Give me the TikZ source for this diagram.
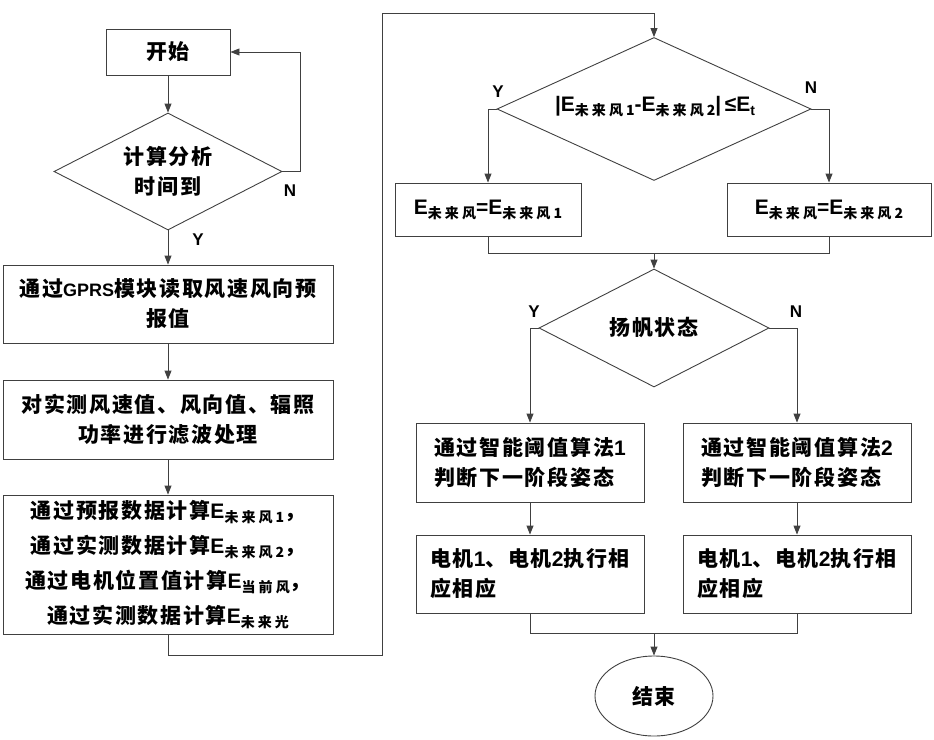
\documentclass[tikz,border=0pt]{standalone}
\usepackage{fontspec}
\newfontfamily\cjk{Noto Sans CJK SC}[LetterSpace=8]
\newfontfamily\cjks{Noto Sans CJK SC}[LetterSpace=22]
\newfontfamily\lat{Liberation Sans}
\usetikzlibrary{shapes.geometric,arrows.meta}
\newcommand\lt[1]{{\lat\bfseries #1}}
\newcommand\sbx[1]{\raisebox{-4pt}{\cjks\bfseries\fontsize{14pt}{14pt}\selectfont #1}}
\newcommand\EE[1]{\lt{E}\sbx{#1}}
\tikzset{
  base/.style={font=\cjk\bfseries\fontsize{21pt}{30pt}\selectfont, draw=black!75, line width=0.9pt},
  proc/.style={base, rectangle, align=center, inner sep=0pt},
  procl/.style={base, rectangle, align=left, inner sep=0pt},
  dec/.style={base, diamond, inner sep=0pt},
  dtext/.style={font=\cjk\bfseries\fontsize{21pt}{30pt}\selectfont, align=center, inner sep=0pt},
  term/.style={base, ellipse, inner sep=0pt},
  yn/.style={font=\lat\bfseries\fontsize{17pt}{17pt}\selectfont, inner sep=0pt},
  line/.style={draw=black!75, line width=0.9pt},
  arr/.style={line, -{Triangle[length=9pt,width=7pt]}},
}
\begin{document}
\begin{tikzpicture}[x=1pt,y=-1pt]
\useasboundingbox (0,0) rectangle (934,739);
% left column
\node[proc, minimum width=124pt, minimum height=46pt] (start) at (168,52) {开始};
\node[dec, minimum width=228pt, minimum height=117pt] (d1) at (168,171.5) {};
\node[dtext] (t1) at (d1) {计算分析\\时间到};
\node[proc, minimum width=330pt, minimum height=78pt] (b2) at (168,304) {通过{\lat\bfseries\fontsize{18pt}{18pt}\selectfont GPRS}模块读取风速风向预\\报值};
\node[proc, minimum width=330pt, minimum height=79pt] (b3) at (168,419.5) {对实测风速值、风向值、辐照\\功率进行滤波处理};
\node[proc, minimum width=330pt, minimum height=139pt, font=\cjk\bfseries\fontsize{21pt}{35pt}\selectfont] (b4) at (168,564.5) {通过预报数据计算\EE{未来风1}，\\通过实测数据计算\EE{未来风2}，\\通过电机位置值计算\EE{当前风}，\\通过实测数据计算\EE{未来光}};
\coordinate (c1) at (382,13);
% right column
\node[dec, minimum width=314pt, minimum height=143pt] (d2) at (654,109) {};
\node[dtext] (t2) at (655,107) {\lt{|}\EE{未来风1}\lt{-}\EE{未来风2}\lt{|}\,\lt{≤}\lt{E}\raisebox{-4pt}{\lat\bfseries\fontsize{14pt}{14pt}\selectfont t}};
\node[proc, minimum width=186pt, minimum height=53pt] (e1) at (488,209.5) {\EE{未来风}\lt{=}\EE{未来风1}};
\node[proc, minimum width=204pt, minimum height=53pt] (e2) at (829,209.5) {\EE{未来风}\lt{=}\EE{未来风2}};
\coordinate (m1) at (654,253);
\node[dec, minimum width=230pt, minimum height=118pt] (d3) at (654,328) {};
\node[dtext] (t3) at (d3) {扬帆状态};
\node[procl, minimum width=228pt, minimum height=79pt] (bA) at (530,462.5) {通过智能阈值算法\lt{1}\\判断下一阶段姿态};
\node[procl, minimum width=228pt, minimum height=79pt] (bB) at (797,462.5) {通过智能阈值算法\lt{2}\\判断下一阶段姿态};
\node[procl, minimum width=228pt, minimum height=78pt] (mA) at (530,574) {电机\lt{1}、电机\lt{2}执行相\\应相应};
\node[procl, minimum width=228pt, minimum height=78pt] (mB) at (797,574) {电机\lt{1}、电机\lt{2}执行相\\应相应};
\coordinate (m2) at (654,633);
\node[term, minimum width=118pt, minimum height=80pt] (end) at (654,696) {结束};
% labels
\node[yn] (y1) at (198,240) {Y};
\node[yn] (n1) at (290,191) {N};
\node[yn] (y2) at (498,92) {Y};
\node[yn] (n2) at (811,88) {N};
\node[yn] (y3) at (534,312) {Y};
\node[yn] (n3) at (796,312) {N};
% connectors
\draw[arr] (start) -- (d1);
\draw[arr] (d1.east) -- ++(18,0) |- (start.east);
\draw[arr] (d1) -- (b2);
\draw[arr] (b2) -- (b3);
\draw[arr] (b3) -- (b4);
\draw[arr] (b4.south) -- ++(0,21) -| (c1) -| (d2.north);
\draw[arr] (d2.west) -| (e1.north);
\draw[arr] (d2.east) -| (e2.north);
\draw[line] (e1.south) |- (m1);
\draw[line] (e2.south) |- (m1);
\draw[arr] (m1) -- (d3.north);
\draw[arr] (d3.west) -| (bA.north);
\draw[arr] (d3.east) -| (bB.north);
\draw[arr] (bA) -- (mA);
\draw[arr] (bB) -- (mB);
\draw[line] (mA.south) |- (m2);
\draw[line] (mB.south) |- (m2);
\draw[arr] (m2) -- (end.north);
\end{tikzpicture}
\end{document}
